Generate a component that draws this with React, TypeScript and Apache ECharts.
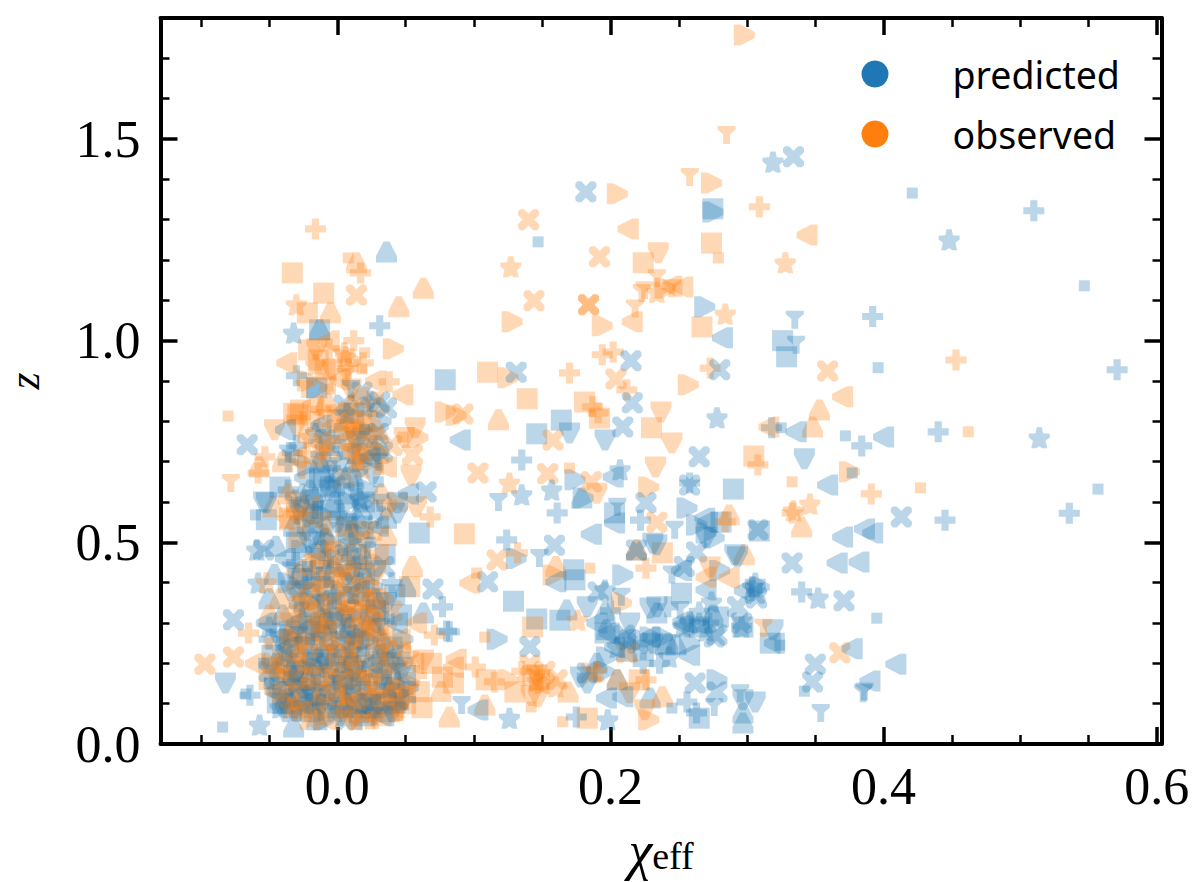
import React, { useEffect, useRef } from "react";
import * as echarts from "echarts";

const majorX = [0, 0.2, 0.4, 0.6];
const minorX = [-0.1, -0.05, 0.05, 0.1, 0.15, 0.25, 0.3, 0.35, 0.45, 0.5, 0.55];
const majorY = [0, 0.5, 1, 1.5];
const minorY = [0.1, 0.2, 0.3, 0.4, 0.6, 0.7, 0.8, 0.9, 1.1, 1.2, 1.3, 1.4, 1.6, 1.7];

const predSquare = [[.146,.769],[.164,.803],[.326,1.0],[.329,.96],[.275,1.327],[.079,.903],[.129,.354],[.29,.632],[.146,.31],[.203,.573],[.173,.432],[.174,.407],[.265,.064],[.309,.528],[-.013,1.027],[-.015,.883],[-.052,.556],[.06,.523],[-.042,.637],[-.044,.102],[.252,.374],[.279,.315],[.265,.29],[.297,.29],[.317,.25],[.196,.275],[.24,.246],[.281,.55],[.224,.233],[.163,.307],
[-.03,.12],[-.04,.1],[-.02,.08],[0,.09],[.02,.07],[.035,.1],[.045,.13],[-.025,.2],[-.01,.17],[.01,.14],[.03,.19],[-.035,.28],[-.015,.3],[.005,.24],[.025,.28],[.04,.24],[-.02,.37],[0,.35],[.02,.41],[-.012,.46],[.008,.52],[-.018,.55],[.005,.62],[-.01,.66],[.02,.6],[-.03,.5],[.035,.47],[.015,.72],[-.006,.74],[.012,.82],[-.013,.655],[-.018,.605],[-.005,.637],[-.018,.563],[-.005,.58],[.007,.538],[-.012,.12],[.014,.18],[-.032,.17],[.028,.33],[-.026,.41],[.042,.37],[-.048,.22],[.047,.32],[-.022,.25],[.016,.25],[-.006,.21],[.034,.14]];
const predSmall = [[.421,1.366],[.547,1.136],[.147,1.245],[.396,.933],[.372,.764],[.557,.632],[.395,.312],[.342,.131],[.325,.784],[.377,.672],[-.084,.042],[-.067,.124],[-.06,.568],[.245,.089],[.324,.245],
[-.05,.15],[-.03,.07],[-.012,.11],[.008,.08],[.028,.11],[.046,.09],[-.037,.22],[-.02,.26],[.002,.19],[.018,.23],[.038,.31],[-.028,.34],[-.006,.4],[.012,.36],[-.022,.44],[.004,.48],[.024,.5],[-.014,.59],[.012,.64],[-.004,.69],[.02,.78],[-.03,.6],[.03,.65],[-.054,.2],[.007,.3],[-.016,.16],[.036,.16]];
const predUp = [[.036,1.22],[-.013,1.027],[.179,.61],[.196,.325],[.242,.25],[.229,.114],[.205,.159],[.168,.332],[.063,.325],[-.045,.49],[.219,.481],[.275,.32],[.248,.246],[.234,.325],[.212,.23],[.19,.2],[.197,.283],[.297,.077],[.297,.052],
[-.034,.1],[-.015,.06],[.005,.11],[.024,.09],[.042,.16],[-.045,.2],[-.022,.16],[-.002,.22],[.017,.17],[.034,.25],[-.04,.32],[-.017,.34],[.009,.29],[.028,.36],[-.028,.42],[-.002,.44],[.018,.47],[-.032,.54],[-.01,.52],[.014,.56],[.036,.56],[-.002,.6],[.01,.68],[-.02,.63],[.03,.74],[.05,.39],[-.013,.697],[-.05,.36],[-.032,.042],[.01,.2],[-.008,.31],[-.046,.42]];
const predDown = [[.342,.707],[.196,.754],[.17,.771],[.231,.498],[.293,.464],[.183,.151],[.297,.11],[.306,.104],[.319,.283],[.234,.34],[-.082,.151],[.044,.573],[-.054,.6],[.27,.513],[.234,.494],[.291,.469],[.229,.337],[.231,.25],[.183,.34],[.178,.166],[.214,.3],
[-.038,.08],[-.018,.12],[.002,.07],[.022,.13],[.04,.08],[-.03,.18],[-.008,.2],[.012,.18],[.032,.16],[-.042,.26],[-.024,.24],[-.003,.3],[.015,.31],[.036,.35],[-.034,.38],[-.012,.39],[.007,.42],[.028,.43],[-.02,.5],[0,.55],[.018,.54],[-.028,.58],[-.006,.63],[.026,.67],[.014,.75],[-.012,.7],[-.052,.598],[.044,.598],[.022,.1],[-.046,.14],[.048,.19]];
const predLeft = [[.09,.754],[.282,1.007],[.336,.774],[.40,.761],[.37,.513],[.386,.533],[.392,.523],[.366,.449],[.382,.451],[.377,.236],[.409,.198],[.39,.156],[.359,.642],[.202,.662],[.254,.295],[.203,.548],[.197,.114],[.199,.275],[.103,.084],[.229,.265],[.16,.402],[.186,.52],[.271,.55],[.269,.56],[.27,.382],[.253,.303],[.252,.43],[.298,.38],[.211,.26],[.32,.25],[.258,.22],[.19,.3],[.209,.117],[.203,.24],
[-.045,.13],[-.025,.1],[-.006,.13],[.014,.1],[.034,.07],[.05,.17],[-.036,.24],[-.014,.22],[.006,.27],[.026,.2],[.044,.3],[-.03,.3],[-.008,.36],[.016,.38],[-.038,.46],[-.016,.48],[.01,.46],[.03,.54],[-.024,.66],[.002,.66],[.024,.71],[-.012,.79],[.052,.62],[-.038,.779],[.004,.16],[-.02,.29],[-.052,.3]];
const predRight = [[.269,1.084],[.275,1.319],[.174,.655],[.256,.585],[.209,.419],[.117,.26],[.278,.159],[.263,.543],[.27,.523],[.131,.46],[.18,.61],[.276,.511],[.309,.389],[.229,.265],[.258,.25],[.195,.18],[.28,.43],[.197,.216],[.238,.265],
[-.028,.09],[-.01,.06],[.012,.12],[.03,.09],[.052,.14],[-.042,.17],[-.02,.14],[.004,.16],[.022,.26],[.042,.2],[-.032,.26],[-.012,.28],[.01,.32],[.03,.32],[-.036,.4],[-.018,.41],[.003,.38],[.026,.39],[-.026,.48],[-.005,.5],[.016,.52],[-.012,.57],[.008,.6],[.022,.63],[-.022,.69],[.018,.7],[.005,.77],[.032,.8],[-.015,.883],[.048,.26]];
const predPlus = [[.51,1.322],[.392,1.06],[.571,.928],[.44,.774],[.384,.739],[.536,.572],[.445,.555],[.34,.377],[.135,.704],[.318,.784],[.161,.573],[.124,.506],[.222,.555],[.263,.077],[.175,.067],[.082,.278],[.258,.647],[.031,1.037],[-.03,.913],[-.033,.722],[.077,.34],[.08,.28],[-.064,.121],[.2,.33],[.242,.34],[.272,.3],[.236,.2],[.256,.104],[.224,.2],
[-.04,.13],[-.022,.09],[-.004,.1],[.016,.06],[.036,.12],[-.032,.2],[-.012,.24],[.008,.21],[.028,.24],[.046,.22],[-.026,.31],[-.005,.33],[.02,.35],[.04,.4],[-.03,.45],[-.008,.43],[.014,.44],[-.022,.53],[.002,.57],[-.016,.61],[.012,.64],[.004,.73],[-.03,.74],[.024,.85],[-.036,.699],[-.036,.63],[.05,.11],[-.05,.26]];
const predCross = [[.182,1.369],[.334,1.456],[.131,.922],[.215,.95],[.216,.846],[.209,.786],[.28,.928],[.265,.712],[.11,.402],[.226,.598],[.262,.151],[.278,.129],[.293,.34],[.307,.362],[.276,.265],[.333,.449],[.308,.531],[.258,.642],[.219,.481],[.191,.377],[.141,.241],[.159,.493],[.21,.27],[.183,.176],[.413,.563],[.371,.355],[.35,.198],[.348,.154],[-.076,.308],[.065,.625],[.07,.384],[-.054,.481],[-.066,.742],[.263,.476],[.254,.44],[.306,.374],[.278,.27],[.296,.3],[.22,.25],[.214,.258],
[-.035,.11],[-.016,.1],[.006,.06],[.025,.1],[.044,.11],[-.028,.15],[-.006,.16],[.018,.15],[.036,.21],[-.038,.22],[-.018,.21],[.002,.26],[.024,.3],[-.028,.36],[-.002,.31],[.012,.4],[.034,.44],[-.014,.51],[.006,.47],[-.024,.57],[-.002,.64],[.018,.58],[.018,.76],[.005,.84],[.03,.77],[.018,.873],[.031,.848],[.036,.833],[-.009,.754],[.033,.724],[-.05,.18]];
const predStar = [[.448,1.25],[.514,.759],[.352,.362],[.319,1.443],[.278,.809],[.135,.618],[.157,.63],[.207,.68],[.126,.064],[.198,.06],[.296,.29],[.265,.30],[.258,.30],[.306,.399],[-.057,.047],[-.059,.481],[.016,.61],[-.058,.399],[-.032,1.019],[.274,.352],[.265,.327],[.304,.389],[.196,.382],[.253,.29],[.205,.24],[.27,.28],[.243,.216],
[-.042,.09],[-.024,.13],[-.002,.08],[.018,.1],[.038,.14],[-.032,.17],[-.014,.19],[.01,.23],[.03,.22],[-.04,.27],[-.008,.27],[.014,.27],[-.024,.39],[-.002,.37],[.02,.44],[-.018,.43],[.01,.5],[-.008,.54],[-.026,.62],[.002,.7],[-.016,.77],[.028,.58],[.02,.836],[.007,.82],[.017,.605],[-.05,.29]];
const predTri = [[.335,1.052],[.336,.99],[.354,.077],[.385,.126],[.386,.13],[.091,.097],[.148,.461],[.247,.531],[.251,.332],[.276,.092],[.205,.588],[.118,.6],[.208,.365],[.245,.42],[.295,.126],
[-.034,.14],[-.012,.08],[.008,.13],[.027,.07],[.044,.18],[-.02,.19],[0,.15],[.02,.2],[-.028,.27],[.004,.3],[.032,.29],[-.012,.35],[.01,.37],[-.034,.43],[-.005,.46],[.022,.48],[-.016,.58],[.008,.55],[-.004,.67],[.016,.66],[-.036,.72],[.01,.88],[.03,.7],[.031,.598],[.024,.53]];

const obsSquare = [[-.033,1.168],[-.01,1.118],[-.022,1.069],[-.029,.816],[.11,.922],[.274,1.242],[.224,1.193],[.267,1.034],[.23,.784],[.139,.856],[.305,.714],[.181,.848],[.192,.808],[.093,.521],[.143,.29],[.13,.129],[.109,.159],[.183,.064],[.148,.159],[.085,.151],[.069,.2],[.06,.13],[.077,.166],[.143,.17],[.238,.474],[.221,.159],
[-.035,.24],[-.018,.2],[0,.22],[.02,.26],[.038,.2],[-.028,.14],[-.008,.11],[.014,.09],[.032,.07],[.05,.1],[-.02,.32],[.006,.33],[.03,.35],[-.012,.43],[.014,.47],[-.03,.6],[-.035,.56],[-.02,.8],[.008,.82],[.022,.74],[.038,.08],[.062,.09],[-.021,.977],[-.014,.952],[-.009,.928],[-.032,.82],[-.027,.828],[0,.803],[.053,.39],[.01,.12],[-.01,.28],[-.05,.16]];
const obsSmall = [[.333,.65],[.427,.635],[.462,.774],[.279,1.205],[.008,1.205],[-.08,.813],[.02,.97],[.17,.684],[.142,.092],[.108,.265],[.102,.424],[.185,.436],[.165,.055],
[-.03,.1],[-.012,.06],[.006,.07],[.024,.05],[.044,.07],[-.04,.17],[-.022,.15],[.002,.14],[.02,.17],[.04,.15],[.05,.24],[-.026,.25],[-.006,.29],[.014,.3],[.032,.27],[-.02,.39],[.004,.38],[.024,.37],[-.006,.49],[.012,.44],[-.015,.7],[.03,.68],[.01,.78],[-.025,.76],[.03,.86],[-.005,.88],[.018,.93],[.048,.761],[.014,.05],[-.05,.25]];
const obsUp = [[.063,1.13],[.045,1.084],[.014,1.193],[-.005,1.069],[.118,.804],[.353,.828],[.348,.786],[.34,.538],[.298,.469],[.169,.129],[.238,.117],[.108,.097],[.219,.481],[.205,.159],[.16,.44],[.082,.067],[.287,.568],[.076,.13],
[-.036,.11],[-.014,.09],[.006,.1],[.026,.08],[.044,.11],[-.04,.19],[-.02,.18],[.003,.18],[.022,.19],[.04,.23],[-.03,.28],[-.008,.3],[.012,.26],[.03,.3],[-.016,.36],[.004,.42],[.018,.42],[-.042,.36],[-.008,.51],[.012,.53],[-.036,.62],[.032,.62],[-.04,.7],[.03,.72],[.005,.8],[-.008,.85],[.02,.8],[-.057,.687],[-.047,.588],[.036,.517],[.029,.779],[.055,.44],[-.05,.32]];
const obsDown = [[.235,1.218],[.237,.823],[.245,.746],[.233,.687],[.057,.784],[.054,.667],[.19,.622],[.273,.439],[.049,.76],[.225,.085],[.142,.12],[.063,.208],[.147,.117],[.214,.127],[.058,.588],[.146,.172],
[-.03,.08],[-.012,.13],[.01,.06],[.03,.11],[.05,.12],[-.036,.16],[-.016,.24],[.006,.2],[.026,.15],[.044,.18],[-.028,.34],[-.004,.25],[.016,.28],[.036,.28],[-.034,.3],[-.01,.38],[.012,.33],[.028,.42],[-.002,.46],[.02,.5],[-.025,.55],[.036,.58],[-.03,.79],[-.012,.73],[.01,.72],[.026,.76],[-.004,.93],[.01,.88],[-.015,.98],[-.046,.779],[.012,.771],[-.048,.19]];
const obsLeft = [[-.037,.945],[.213,1.277],[.253,1.133],[.37,.861],[.344,1.262],[.216,1.047],[.316,.786],[.097,.399],[.287,.412],[.048,.866],[.087,.21],[.245,1.135],[.27,.414],[.085,.19],
[-.046,.13],[-.026,.08],[-.006,.06],[.014,.11],[.034,.12],[.056,.2],[-.03,.22],[-.012,.16],[.008,.16],[.028,.22],[.046,.26],[-.036,.32],[-.014,.34],[.004,.31],[.026,.34],[-.024,.44],[-.002,.4],[.018,.36],[.03,.47],[-.012,.55],[-.03,.71],[.004,.75],[.028,.9],[-.018,.84],[.012,.8],[-.006,1.0],[.016,.86],[.002,.903],[.036,.687],[-.06,.2],[.058,.3]];
const obsRight = [[.205,1.364],[.274,1.391],[.128,1.047],[.194,1.037],[.257,.891],[.125,.908],[.041,.98],[.079,.823],[.375,.675],[.228,.637],[.228,.06],[.158,.419],[.298,1.758],[.24,1.13],[.087,.815],[.125,.159],[.208,.35],
[-.04,.21],[-.022,.11],[-.002,.13],[.016,.07],[.036,.09],[.052,.15],[-.03,.17],[-.01,.2],[.01,.21],[.03,.17],[-.034,.26],[-.016,.28],[.008,.35],[.024,.32],[-.02,.35],[.014,.4],[.034,.36],[-.006,.44],[.006,.54],[-.028,.51],[-.004,.71],[.018,.78],[-.022,.9],[.01,.95],[.03,.83],[.059,.76],[.019,.717],[.048,.13]];
const obsPlus = [[-.016,1.277],[.038,.898],[.017,1.168],[.019,.945],[.17,.92],[.194,.965],[.202,.972],[.212,.878],[.273,.932],[.309,1.332],[.308,.692],[.453,.952],[.391,.62],[.333,.573],[.132,.474],[.101,.191],[.226,.436],[.115,.154],[.187,.836],[.191,.821],[.071,.27],[.226,.159],[.284,.551],[.135,.18],
[-.034,.19],[-.016,.14],[.004,.12],[.022,.13],[.042,.1],[.058,.17],[-.024,.27],[-.002,.24],[.016,.22],[.036,.25],[-.03,.38],[-.01,.32],[.01,.27],[.028,.38],[-.014,.47],[.008,.43],[.03,.53],[-.03,.57],[-.022,.72],[.002,.78],[.022,.82],[-.006,.98],[.008,.93],[-.012,.83],[.012,1.0],[-.053,.712],[-.058,.672],[.068,.563],[-.065,.275],[.015,.36]];
const obsCross = [[.14,1.30],[.192,1.208],[.144,1.099],[.184,1.089],[.204,.905],[.092,.818],[.158,.754],[.359,.925],[.368,.226],[.103,.672],[.154,.67],[.186,.65],[.234,.55],[.117,.456],[.141,.196],[.161,.159],[.186,.176],[.212,.226],[.014,1.113],[.055,.717],[-.097,.198],[-.076,.216],[.184,1.089],[.152,.18],
[-.04,.12],[-.02,.06],[0,.12],[.02,.08],[.04,.14],[-.028,.16],[-.006,.17],[.014,.16],[.034,.13],[-.032,.22],[-.012,.25],[.01,.19],[.028,.26],[-.022,.3],[.002,.28],[.022,.29],[.04,.33],[-.008,.41],[.018,.39],[.006,.48],[-.03,.41],[-.02,.59],[.026,.72],[-.01,.78],[.012,.75],[.04,.74],[.044,.6],[.005,.662],[-.047,.2]];
const obsStar = [[.127,1.183],[.284,1.066],[.328,1.193],[.346,.595],[.334,.578],[.126,.647],[.176,.307],[-.03,1.089],[.006,.96],[.234,1.12],[.19,.18],[.16,.142],[.146,.156],[.15,.15],
[-.034,.09],[-.016,.1],[.004,.09],[.024,.12],[.044,.09],[-.024,.2],[-.004,.19],[.014,.2],[.034,.19],[.052,.22],[-.036,.27],[-.012,.3],[.008,.24],[.026,.31],[-.026,.36],[.001,.35],[.018,.33],[-.014,.39],[.006,.44],[-.006,.47],[.022,.46],[-.03,.58],[-.008,.75],[.014,.71],[-.02,.76],[.01,.84],[-.008,.9],[.005,.97],[-.016,.94],[-.037,.556],[.018,.684],[-.052,.4]];
const obsTri = [[.258,1.406],[.285,1.51],[.223,1.118],[.234,1.155],[-.078,.647],[.245,1.13],[.225,1.125],[.218,1.08],[.312,.288],
[-.03,.13],[-.01,.1],[.01,.1],[.028,.06],[.046,.08],[-.018,.17],[.002,.16],[.024,.14],[-.026,.23],[-.006,.23],[.012,.24],[.034,.23],[-.014,.29],[.006,.32],[.022,.28],[-.006,.35],[.012,.37],[-.018,.45],[.002,.41],[.022,.53],[-.026,.68],[.016,.7],[-.01,.72],[.02,.77],[-.002,.82],[-.024,.88],[.006,.91],[-.009,.808]];

const square = "path://M0 0H100V100H0Z";
const up = "path://M36 0H64L100 70V100H0V70Z";
const down = "path://M0 0H100V30L64 100H36L0 30Z";
const left = "path://M100 0V100H70L0 64V36L70 0Z";
const right = "path://M0 0H30L100 36V64L30 100H0Z";
const plus = "path://M33 0H67V33H100V67H67V100H33V67H0V33H33Z";
const cross = "path://M10 0H28L50 22L72 0H90L100 10V28L78 50L100 72V90L90 100H72L50 78L28 100H10L0 90V72L22 50L0 28V10Z";
const star = "path://M38 0H62L68 28L100 30V48L80 64L88 100H66L50 90L34 100H12L20 64L0 48V30L32 28Z";
const tri = "path://M0 0H100V20L69 46V100H31V46L0 20Z";

const BLUE = "#1f77b4";
const ORANGE = "#ff7f0e";
const SERIF = "Liberation Serif";

const shapes = [
  { symbol: square, size: 21, pred: predSquare, obs: obsSquare },
  { symbol: right, size: 21, pred: predRight, obs: obsRight },
  { symbol: plus, size: 21, pred: predPlus, obs: obsPlus },
  { symbol: up, size: 21, pred: predUp, obs: obsUp },
  { symbol: cross, size: 21, pred: predCross, obs: obsCross },
  { symbol: down, size: 21, pred: predDown, obs: obsDown },
  { symbol: star, size: 21, pred: predStar, obs: obsStar },
  { symbol: left, size: 21, pred: predLeft, obs: obsLeft },
  { symbol: tri, size: 18, pred: predTri, obs: obsTri },
  { symbol: square, size: 11, pred: predSmall, obs: obsSmall },
];

const xMin = -0.1295;
const xMax = 0.6035;
const yMax = 1.8;
const noLabel = { show: false };

function xAxis(position: string, ticks: number[], len: number, width: number, labels: boolean, line: boolean): any {
  return {
    type: "value", position, min: xMin, max: xMax, splitLine: { show: false },
    axisLine: { show: line, onZero: false, lineStyle: { color: "#000", width: 4 } },
    axisTick: { show: true, inside: true, length: len, customValues: ticks, lineStyle: { color: "#000", width } },
    axisLabel: labels
      ? { show: true, customValues: majorX, margin: 16, color: "#000", fontFamily: SERIF, fontSize: 52, formatter: (v: number) => v.toFixed(1) }
      : noLabel,
  };
}
function yAxis(position: string, ticks: number[], len: number, width: number, labels: boolean, line: boolean): any {
  return {
    type: "value", position, min: 0, max: yMax, splitLine: { show: false },
    axisLine: { show: line, onZero: false, lineStyle: { color: "#000", width: 4 } },
    axisTick: { show: true, inside: true, length: len, customValues: ticks, lineStyle: { color: "#000", width } },
    axisLabel: labels
      ? { show: true, customValues: majorY, margin: 20, color: "#000", fontFamily: SERIF, fontSize: 52, formatter: (v: number) => v.toFixed(1) }
      : noLabel,
  };
}

export default function App() {
  const ref = useRef<HTMLDivElement>(null);
  useEffect(() => {
    const chart = echarts.init(ref.current!, undefined, { renderer: "svg" });
    const series: any[] = [];
    shapes.forEach((s) => {
      [
        { name: "predicted", color: BLUE, data: s.pred },
        { name: "observed", color: ORANGE, data: s.obs },
      ].forEach((g) => {
        series.push({
          type: "scatter", name: g.name, data: g.data, symbol: s.symbol, symbolSize: s.size,
          itemStyle: { color: g.color, opacity: 0.3, borderWidth: 0 },
          emphasis: { disabled: true }, silent: true, clip: true,
        });
      });
    });
    const xMajor = xAxis("bottom", majorX, 17, 3.5, true, true);
    xMajor.name = "{c|χ}{e|eff}";
    xMajor.nameLocation = "middle";
    xMajor.nameGap = 80;
    xMajor.nameTextStyle = {
      rich: {
        c: { fontFamily: SERIF, fontStyle: "italic", fontSize: 54, color: "#000" },
        e: { fontFamily: SERIF, fontSize: 38, color: "#000", padding: [10, 0, 0, 0] },
      },
    };
    const yMajor = yAxis("left", majorY, 17, 3.5, true, true);
    yMajor.name = "z";
    yMajor.nameLocation = "middle";
    yMajor.nameGap = 114;
    yMajor.nameRotate = 90;
    yMajor.nameTextStyle = { fontFamily: SERIF, fontStyle: "italic", fontSize: 44, color: "#000" };
    chart.setOption({
      animation: false,
      backgroundColor: "#fff",
      grid: { left: 160.5, top: 18, right: 38.5, bottom: 138, containLabel: false, outerBoundsMode: "none" },
      xAxis: [
        xMajor,
        xAxis("bottom", minorX, 9, 2.5, false, false),
        xAxis("top", majorX, 17, 3.5, false, true),
        xAxis("top", minorX, 9, 2.5, false, false),
      ],
      yAxis: [
        yMajor,
        yAxis("left", minorY, 9, 2.5, false, false),
        yAxis("right", majorY, 17, 3.5, false, true),
        yAxis("right", minorY, 9, 2.5, false, false),
      ],
      legend: {
        orient: "vertical", left: 856.5, top: 50, itemWidth: 27, itemHeight: 27, itemGap: 22,
        selectedMode: false,
        textStyle: { fontFamily: "Noto Sans", fontSize: 37.5, color: "#000", padding: [0, 0, 4, 59] },
        data: [
          { name: "predicted", icon: "circle", itemStyle: { color: BLUE, opacity: 1 } },
          { name: "observed", icon: "circle", itemStyle: { color: ORANGE, opacity: 1 } },
        ],
      },
      series,
    });
    return () => chart.dispose();
  }, []);
  return <div ref={ref} style={{ position: "absolute", left: 0, top: 0, width: 1200, height: 882 }} />;
}
